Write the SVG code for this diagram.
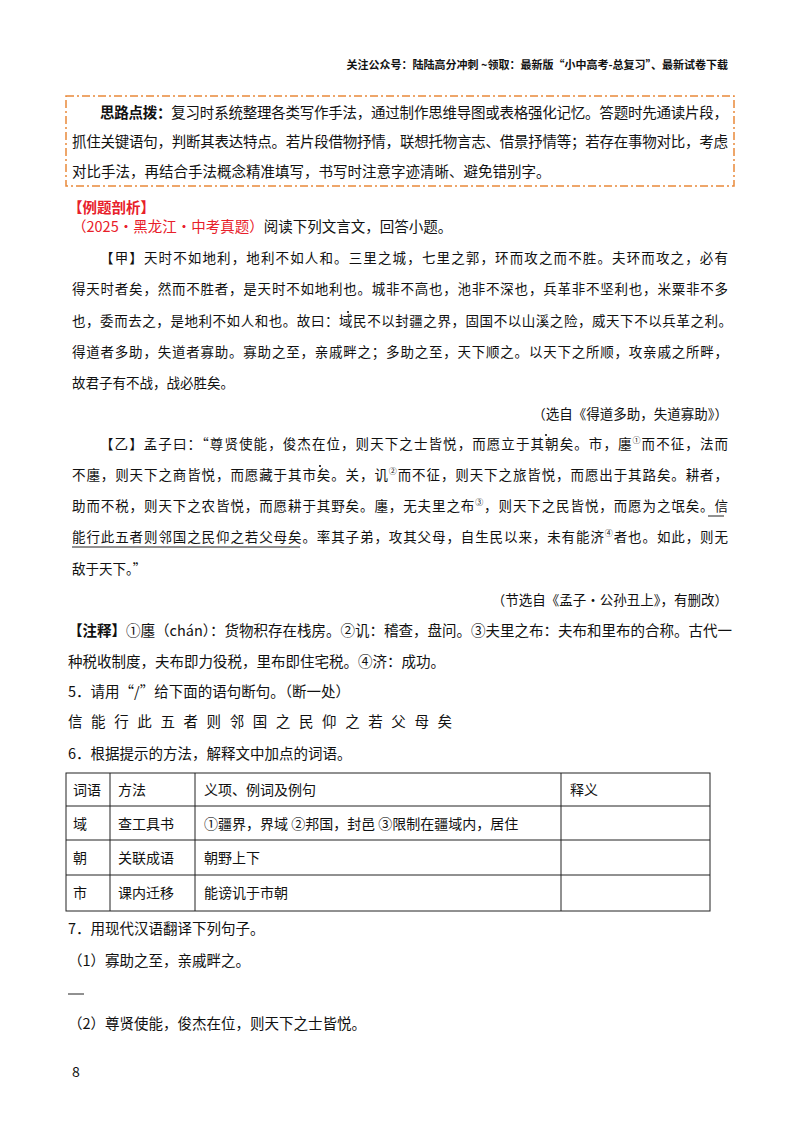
<svg xmlns="http://www.w3.org/2000/svg" width="800" height="1132" viewBox="0 0 800 1132">
<style>
text{font-family:"Noto Sans CJK SC",sans-serif;fill:#111}
.h{font-size:11px;font-weight:bold}
.b{font-size:14.5px}
.p{font-size:13.5px}
.t{font-size:14px}
.red{fill:#e8202a}
line.g{stroke:#222;stroke-width:1}
</style>
<rect width="800" height="1132" fill="#fff"/>
<text class="h" x="728" y="69" text-anchor="end">关注公众号：陆陆高分冲刺 ~领取：最新版“小中高考-总复习”、最新试卷下载</text>
<rect x="66" y="96" width="668" height="90" fill="none" stroke="#e9893a" stroke-width="1.5" stroke-dasharray="8,3,2,3"/>
<text class="b" x="100" y="118" textLength="628" lengthAdjust="spacing"><tspan font-weight="bold">思路点拨：</tspan>复习时系统整理各类写作手法，通过制作思维导图或表格强化记忆。答题时先通读片段，</text>
<text class="b" x="72" y="147" textLength="656" lengthAdjust="spacing">抓住关键语句，判断其表达特点。若片段借物抒情，联想托物言志、借景抒情等；若存在事物对比，考虑</text>
<text class="b" x="72" y="177">对比手法，再结合手法概念精准填写，书写时注意字迹清晰、避免错别字。</text>
<text class="b red" x="68" y="213" font-weight="bold">【例题剖析】</text>
<text class="b" x="72" y="232"><tspan class="red">（2025·黑龙江·中考真题）</tspan>阅读下列文言文，回答小题。</text>
<g class="p">
<text x="100" y="263" textLength="628" lengthAdjust="spacing">【甲】天时不如地利，地利不如人和。三里之城，七里之郭，环而攻之而不胜。夫环而攻之，必有</text>
<text x="72" y="294" textLength="656" lengthAdjust="spacing">得天时者矣，然而不胜者，是天时不如地利也。城非不高也，池非不深也，兵革非不坚利也，米粟非不多</text>
<text x="72" y="326" textLength="660" lengthAdjust="spacing">也，委而去之，是地利不如人和也。故曰：域民不以封疆之界，固国不以山溪之险，威天下不以兵革之利。</text>
<circle cx="348" cy="312" r="1.1" fill="#111"/>
<text x="72" y="357" textLength="656" lengthAdjust="spacing">得道者多助，失道者寡助。寡助之至，亲戚畔之；多助之至，天下顺之。以天下之所顺，攻亲戚之所畔，</text>
<text x="72" y="388">故君子有不战，战必胜矣。</text>
<text x="728" y="419" text-anchor="end">（选自《得道多助，失道寡助》）</text>
<text x="100" y="449" textLength="628" lengthAdjust="spacing">【乙】孟子曰：“尊贤使能，俊杰在位，则天下之士皆悦，而愿立于其朝矣。市，廛<tspan font-size="8" dy="-6">①</tspan><tspan dy="6">而不征，法而</tspan></text>
<circle cx="546" cy="435" r="1.1" fill="#111"/>
<text x="72" y="480" textLength="656" lengthAdjust="spacing">不廛，则天下之商皆悦，而愿藏于其市矣。关，讥<tspan font-size="8" dy="-6">②</tspan><tspan dy="6">而不征，则天下之旅皆悦，而愿出于其路矣。耕者，</tspan></text>
<circle cx="320" cy="466" r="1.1" fill="#111"/>
<text x="72" y="511" textLength="656" lengthAdjust="spacing">助而不税，则天下之农皆悦，而愿耕于其野矣。廛，无夫里之布<tspan font-size="8" dy="-6">③</tspan><tspan dy="6">，则天下之民皆悦，而愿为之氓矣。信</tspan></text>
<text x="72" y="542" textLength="656" lengthAdjust="spacing">能行此五者则邻国之民仰之若父母矣。率其子弟，攻其父母，自生民以来，未有能济<tspan font-size="8" dy="-6">④</tspan><tspan dy="6">者也。如此，则无</tspan></text>
<line class="g" x1="708" y1="516" x2="724" y2="516"/>
<line class="g" x1="72" y1="547" x2="300" y2="547"/>
<text x="72" y="574">敌于天下。”</text>
<text x="728" y="605" text-anchor="end">（节选自《孟子·公孙丑上》，有删改）</text>
</g>
<text class="b" x="68" y="636" textLength="664" lengthAdjust="spacing"><tspan font-weight="bold">【注释】</tspan>①廛（chán）：货物积存在栈房。②讥：稽查，盘问。③夫里之布：夫布和里布的合称。古代一</text>
<text class="b" x="68" y="667">种税收制度，夫布即力役税，里布即住宅税。④济：成功。</text>
<text class="b" x="68" y="697">5．请用“/”给下面的语句断句。（断一处）</text>
<text class="b" x="68" y="727" textLength="384" lengthAdjust="spacing">信能行此五者则邻国之民仰之若父母矣</text>
<text class="b" x="68" y="759">6．根据提示的方法，解释文中加点的词语。</text>
<g id="table" fill="none" stroke="#222" stroke-width="1">
<rect x="66" y="773" width="644" height="138"/>
<line x1="66" y1="806" x2="710" y2="806"/>
<line x1="66" y1="840" x2="710" y2="840"/>
<line x1="66" y1="875" x2="710" y2="875"/>
<line x1="110" y1="773" x2="110" y2="911"/>
<line x1="195" y1="773" x2="195" y2="911"/>
<line x1="561" y1="773" x2="561" y2="911"/>
</g>
<g class="t">
<text x="73" y="795">词语</text><text x="118" y="795">方法</text><text x="204" y="795">义项、例词及例句</text><text x="570" y="795">释义</text>
<text x="73" y="829">域</text><text x="118" y="829">查工具书</text><text x="204" y="829">①疆界，界域 ②邦国，封邑 ③限制在疆域内，居住</text>
<text x="73" y="863">朝</text><text x="118" y="863">关联成语</text><text x="204" y="863">朝野上下</text>
<text x="73" y="898">市</text><text x="118" y="898">课内迁移</text><text x="204" y="898">能谤讥于市朝</text>
</g>
<text class="b" x="68" y="934">7．用现代汉语翻译下列句子。</text>
<text class="b" x="68" y="966">（1）寡助之至，亲戚畔之。</text>
<line class="g" x1="68" y1="994" x2="84" y2="994"/>
<text class="b" x="68" y="1029">（2）尊贤使能，俊杰在位，则天下之士皆悦。</text>
<text x="72" y="1077" font-family="Liberation Serif,serif" font-size="14">8</text>
</svg>
